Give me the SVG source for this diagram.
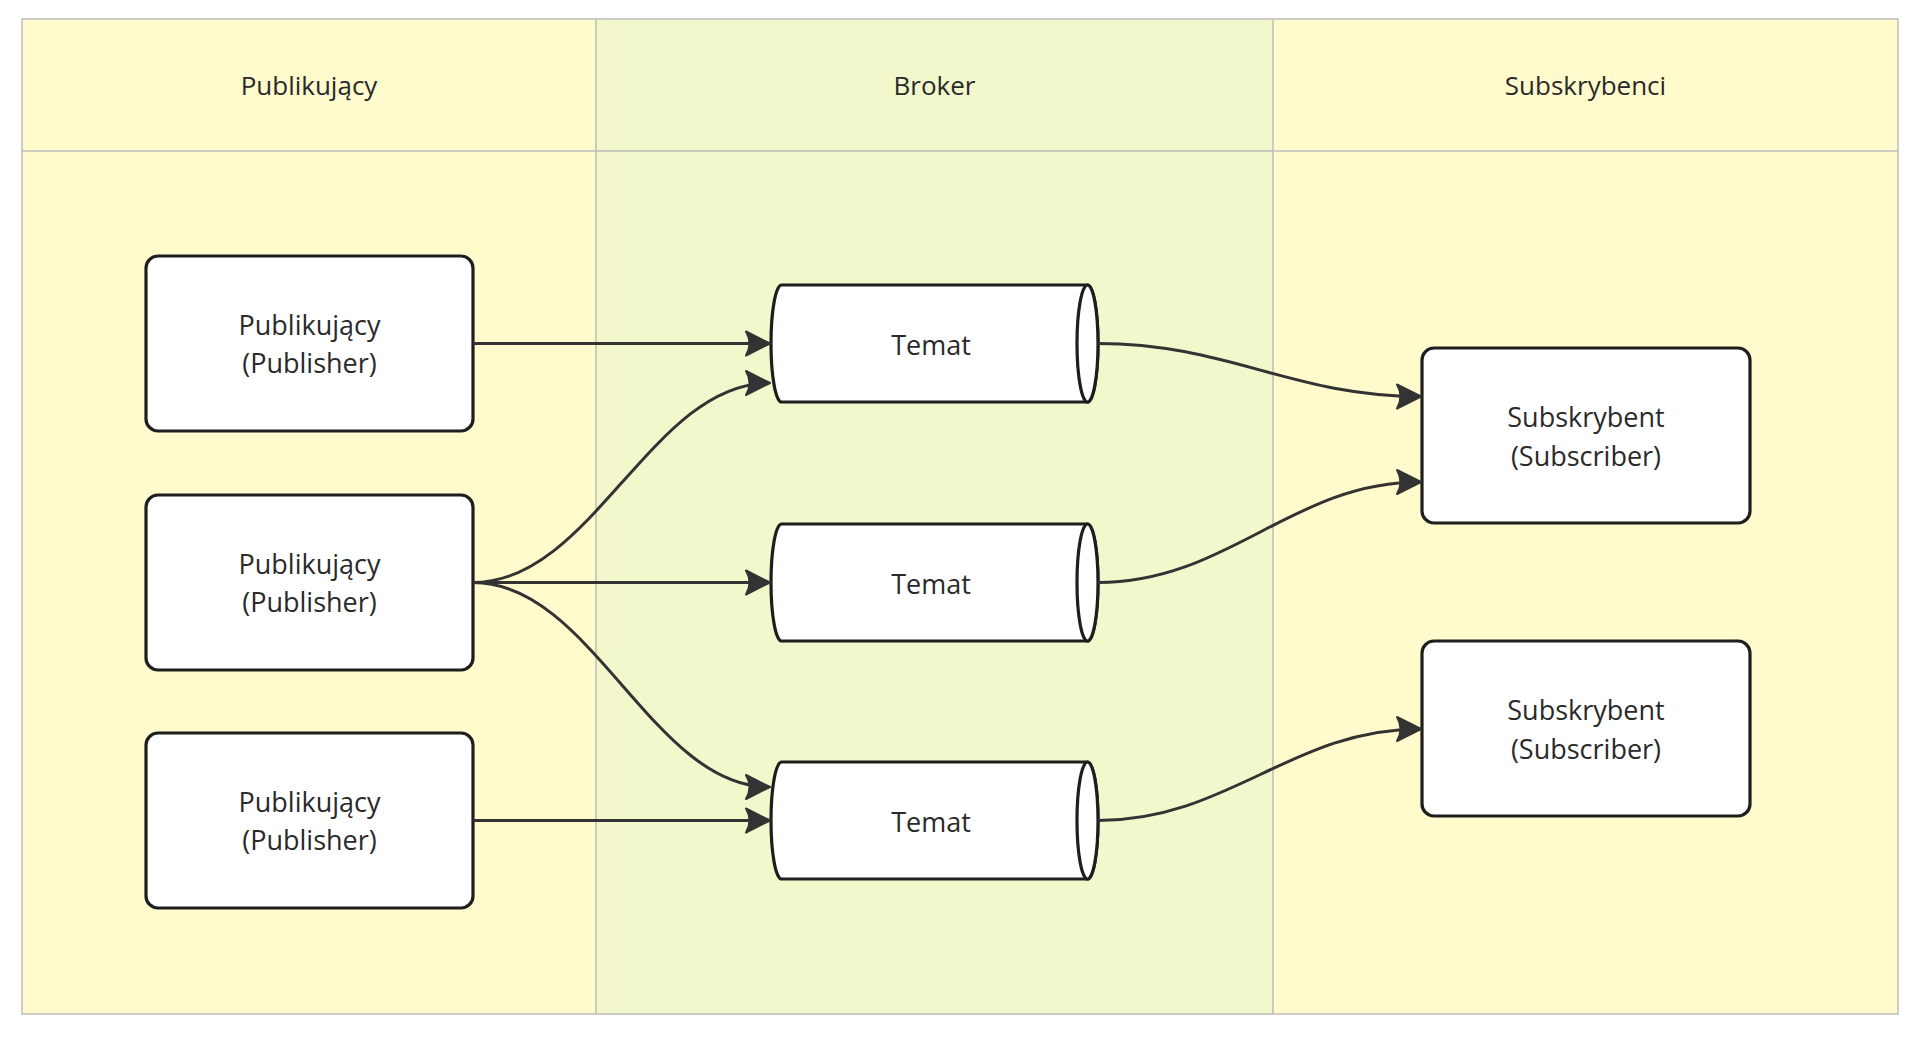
<svg xmlns="http://www.w3.org/2000/svg" width="1920" height="1040" viewBox="0 0 1920 1040">
<style>
.lane-y{fill:#fffbcc;}
.lane-g{fill:#f2f8cc;}
.grid{fill:none;stroke:#bdbdbd;stroke-width:1.5;}
.box{fill:#ffffff;stroke:#1e1e1e;stroke-width:3.2;}
.cyl{fill:#ffffff;stroke:#1e1e1e;stroke-width:3.2;}
.edge{fill:none;stroke:#333333;stroke-width:3;}
.t{font-family:"Open Sans","Noto Sans","Liberation Sans",sans-serif;font-size:27px;fill:#2a2a2a;text-anchor:middle;}
.h{font-size:26px;}
</style>
<defs>
<marker id="arr" markerUnits="userSpaceOnUse" viewBox="0 0 28 30" markerWidth="28" markerHeight="30" refX="25" refY="15" orient="auto">
<path d="M2,3 L26,15 L2,27 Q9,15 2,3 Z" fill="#333333" stroke="#333333" stroke-width="2" stroke-linejoin="round"/>
</marker>
</defs>
<rect x="0" y="0" width="1920" height="1040" fill="#ffffff"/>
<g id="lanes">
<rect class="lane-y" x="22" y="19" width="574" height="995"/>
<rect class="lane-g" x="596" y="19" width="677" height="995"/>
<rect class="lane-y" x="1273" y="19" width="625" height="995"/>
<rect class="grid" x="22" y="19" width="1876" height="995"/>
<line class="grid" x1="596" y1="19" x2="596" y2="1014"/>
<line class="grid" x1="1273" y1="19" x2="1273" y2="1014"/>
<line class="grid" x1="22" y1="151" x2="1898" y2="151"/>
<text class="t h" x="309" y="95">Publikujący</text>
<text class="t h" x="934.5" y="95">Broker</text>
<text class="t h" x="1585.5" y="95">Subskrybenci</text>
</g>
<g id="pub1">
<rect class="box" x="146" y="256" width="327" height="175" rx="12"/>
<text class="t" x="309.5" y="334.5">Publikujący</text>
<text class="t" x="309.5" y="373">(Publisher)</text>
</g>
<g id="pub2">
<rect class="box" x="146" y="495" width="327" height="175" rx="12"/>
<text class="t" x="309.5" y="573.5">Publikujący</text>
<text class="t" x="309.5" y="612">(Publisher)</text>
</g>
<g id="pub3">
<rect class="box" x="146" y="733" width="327" height="175" rx="12"/>
<text class="t" x="309.5" y="811.5">Publikujący</text>
<text class="t" x="309.5" y="850">(Publisher)</text>
</g>
<g id="topic1">
<path class="cyl" d="M781.5,285 H1087.5 A10.5,58.5 0 0 1 1087.5,402 H781.5 A10.5,58.5 0 0 1 781.5,285 Z"/>
<ellipse class="cyl" cx="1087.5" cy="343.5" rx="10.5" ry="58.5"/>
<text class="t" x="931" y="354.5">Temat</text>
</g>
<g id="topic2">
<path class="cyl" d="M781.5,524 H1087.5 A10.5,58.5 0 0 1 1087.5,641 H781.5 A10.5,58.5 0 0 1 781.5,524 Z"/>
<ellipse class="cyl" cx="1087.5" cy="582.5" rx="10.5" ry="58.5"/>
<text class="t" x="931" y="593.5">Temat</text>
</g>
<g id="topic3">
<path class="cyl" d="M781.5,762 H1087.5 A10.5,58.5 0 0 1 1087.5,879 H781.5 A10.5,58.5 0 0 1 781.5,762 Z"/>
<ellipse class="cyl" cx="1087.5" cy="820.5" rx="10.5" ry="58.5"/>
<text class="t" x="931" y="831.5">Temat</text>
</g>
<g id="sub1">
<rect class="box" x="1422" y="348" width="328" height="175" rx="12"/>
<text class="t" x="1586" y="427">Subskrybent</text>
<text class="t" x="1586" y="465.5">(Subscriber)</text>
</g>
<g id="sub2">
<rect class="box" x="1422" y="641" width="328" height="175" rx="12"/>
<text class="t" x="1586" y="720">Subskrybent</text>
<text class="t" x="1586" y="758.5">(Subscriber)</text>
</g>
<g id="edges">
<path class="edge" marker-end="url(#arr)" d="M473,343.5 H769"/>
<path class="edge" marker-end="url(#arr)" d="M473,582.5 C592,582.5 652,383 769,383"/>
<path class="edge" marker-end="url(#arr)" d="M473,582.5 H769"/>
<path class="edge" marker-end="url(#arr)" d="M473,582.5 C592,582.5 652,787 769,787"/>
<path class="edge" marker-end="url(#arr)" d="M473,820.5 H769"/>
<path class="edge" marker-end="url(#arr)" d="M1098,343.5 C1228,343.5 1292,396.5 1420,396.5"/>
<path class="edge" marker-end="url(#arr)" d="M1098,582.5 C1228,582.5 1292,482 1420,482"/>
<path class="edge" marker-end="url(#arr)" d="M1098,820.5 C1228,820.5 1292,729 1420,729"/>
</g>
</svg>
